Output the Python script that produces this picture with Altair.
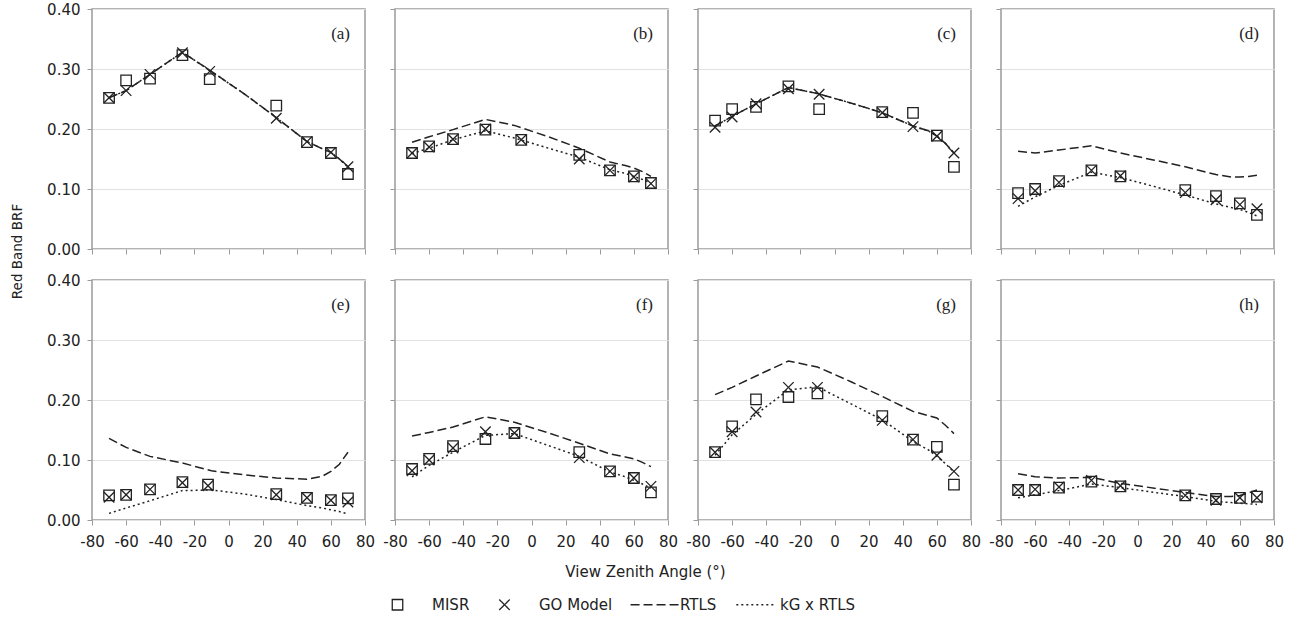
import altair as alt
import pandas as pd

PANELS = ["a", "b", "c", "d", "e", "f", "g", "h"]
SERIES = ["MISR", "GO Model", "RTLS", "kG x RTLS"]
POINT_ANGLES = [-70, -60, -46, -27, -10, 28, 46, 60, 70]
FIFTH_ANGLE = [-11, -6, -9, -10, -12, -10, -10, -10]
LINE_ANGLES = [-70, -60, -46, -27, -10, 10, 28, 46, 55, 60, 65, 70]
X_TICKS = [-80, -60, -40, -20, 0, 20, 40, 60, 80]
Y_TICKS = [0.0, 0.1, 0.2, 0.3, 0.4]

MISR = {
    "a": [0.252, 0.281, 0.284, 0.323, 0.283, 0.239, 0.178, 0.160, 0.125],
    "b": [0.160, 0.171, 0.183, 0.199, 0.182, 0.157, 0.131, 0.121, 0.110],
    "c": [0.214, 0.233, 0.237, 0.271, 0.233, 0.228, 0.227, 0.189, 0.137],
    "d": [0.093, 0.100, 0.113, 0.131, 0.121, 0.098, 0.088, 0.076, 0.057],
    "e": [0.041, 0.042, 0.051, 0.063, 0.059, 0.043, 0.037, 0.033, 0.036],
    "f": [0.085, 0.102, 0.123, 0.135, 0.145, 0.113, 0.081, 0.070, 0.046],
    "g": [0.113, 0.156, 0.201, 0.205, 0.211, 0.173, 0.134, 0.122, 0.059],
    "h": [0.050, 0.050, 0.054, 0.064, 0.056, 0.041, 0.035, 0.037, 0.039],
}
GO = {
    "a": [0.252, 0.264, 0.291, 0.327, 0.296, 0.218, 0.179, 0.161, 0.137],
    "b": [0.160, 0.170, 0.183, 0.200, 0.182, 0.150, 0.131, 0.120, 0.109],
    "c": [0.203, 0.220, 0.242, 0.267, 0.258, 0.227, 0.204, 0.188, 0.160],
    "d": [0.084, 0.097, 0.111, 0.131, 0.122, 0.094, 0.082, 0.074, 0.067],
    "e": [0.038, 0.042, 0.051, 0.062, 0.057, 0.042, 0.037, 0.033, 0.030],
    "f": [0.082, 0.100, 0.120, 0.147, 0.145, 0.104, 0.081, 0.070, 0.056],
    "g": [0.113, 0.147, 0.180, 0.221, 0.221, 0.166, 0.134, 0.108, 0.081],
    "h": [0.050, 0.051, 0.055, 0.066, 0.057, 0.041, 0.033, 0.037, 0.037],
}
RTLS = {
    "a": [0.252, 0.264, 0.291, 0.328, 0.296, 0.257, 0.219, 0.179, 0.167, 0.161, 0.150, 0.137],
    "b": [0.178, 0.187, 0.199, 0.216, 0.206, 0.187, 0.168, 0.145, 0.139, 0.135, 0.129, 0.121],
    "c": [0.205, 0.221, 0.242, 0.269, 0.259, 0.243, 0.227, 0.205, 0.197, 0.188, 0.176, 0.160],
    "d": [0.163, 0.160, 0.165, 0.172, 0.160, 0.148, 0.137, 0.124, 0.120, 0.120, 0.121, 0.123],
    "e": [0.136, 0.121, 0.106, 0.095, 0.082, 0.075, 0.070, 0.068, 0.073, 0.081, 0.093, 0.113],
    "f": [0.140, 0.146, 0.155, 0.172, 0.163, 0.145, 0.128, 0.110, 0.105, 0.102, 0.096, 0.089],
    "g": [0.209, 0.221, 0.240, 0.265, 0.255, 0.230, 0.206, 0.181, 0.174, 0.170, 0.158, 0.144],
    "h": [0.077, 0.072, 0.070, 0.071, 0.061, 0.053, 0.046, 0.039, 0.039, 0.041, 0.045, 0.050],
}
KG_RTLS = {
    "a": [0.252, 0.264, 0.291, 0.328, 0.296, 0.257, 0.219, 0.179, 0.167, 0.161, 0.150, 0.137],
    "b": [0.159, 0.168, 0.182, 0.197, 0.185, 0.168, 0.153, 0.132, 0.126, 0.121, 0.116, 0.110],
    "c": [0.205, 0.221, 0.242, 0.269, 0.259, 0.243, 0.227, 0.205, 0.197, 0.188, 0.176, 0.160],
    "d": [0.071, 0.087, 0.106, 0.128, 0.119, 0.104, 0.090, 0.075, 0.069, 0.066, 0.061, 0.055],
    "e": [0.011, 0.020, 0.032, 0.049, 0.050, 0.043, 0.034, 0.024, 0.020, 0.017, 0.014, 0.010],
    "f": [0.072, 0.091, 0.113, 0.141, 0.144, 0.124, 0.106, 0.080, 0.072, 0.066, 0.060, 0.053],
    "g": [0.108, 0.142, 0.176, 0.217, 0.222, 0.193, 0.167, 0.131, 0.117, 0.106, 0.094, 0.080],
    "h": [0.037, 0.042, 0.049, 0.060, 0.054, 0.046, 0.039, 0.031, 0.029, 0.028, 0.027, 0.026],
}

# ---- build long table ----
rows = []
for i, p in enumerate(PANELS):
    px = list(POINT_ANGLES)
    px[4] = FIFTH_ANGLE[i]
    for name, src in (("MISR", MISR), ("GO Model", GO)):
        for order, (x, y) in enumerate(zip(px, src[p])):
            rows.append(dict(panel=p, series=name, kind="point", x=x, y=y, order=order))
    for name, src in (("RTLS", RTLS), ("kG x RTLS", KG_RTLS)):
        for order, (x, y) in enumerate(zip(LINE_ANGLES, src[p])):
            rows.append(dict(panel=p, series=name, kind="line", x=x, y=y, order=order))
df = pd.DataFrame(rows)

INK = "#222222"
FRAME = "#9a9a9a"
W, H = 273, 240
FONT = "DejaVu Sans"

# marker / key glyphs: square, centred x-cross (leading move only widens the key
# spacing), long-dash sample, dotted sample
shape_scale = alt.Scale(
    domain=SERIES,
    range=[
        "square",
        "M-3.7,0M-1,-1L1,1M-1,1L1,-1",
        "M-3.4,0M-2.85,0H6.85",
        "M-2.5,0M-1.75,0H5.5",
    ],
)
dash_scale = alt.Scale(domain=SERIES, range=[[1, 0], [1, 0], [9, 4], [2, 3]])

legend = alt.Legend(
    title=None,
    orient="none",
    direction="horizontal",
    legendX=298,
    legendY=588,
    labelFont=FONT,
    labelFontSize=15,
    labelColor=INK,
    labelOffset=27,
    columnPadding=12,
    symbolSize=110,
    symbolStrokeWidth=1.3,
    symbolStrokeColor=INK,
    symbolFillColor="transparent",
)


def make_panel(i, p):
    left = i % 4 == 0
    bottom = i >= 4
    xaxis_kw = dict(
        values=X_TICKS, labels=bottom, labelExpr="'' + datum.value", grid=False,
        title=None, labelFlush=False, labelOverlap=False, labelPadding=9,
    )
    if i == 5:
        xaxis_kw.update(title="View Zenith Angle (°)", titleX=250, titleY=51,
                        titleBaseline="middle", titleFontSize=15, titleFont=FONT,
                        titleFontWeight="normal", titleColor=INK)
    yaxis_kw = dict(values=Y_TICKS, labels=left, format=".2f", grid=True, title=None,
                    labelFlush=False, labelOverlap=False, labelPadding=7)
    if i == 0:
        yaxis_kw.update(title="Red Band BRF", titleX=-75, titleY=242,
                        titleBaseline="middle", titleFontSize=13.5, titleFont=FONT,
                        titleFontWeight="normal", titleColor=INK, titleAngle=270)
    x = alt.X("x:Q", scale=alt.Scale(domain=[-80, 80], nice=False, zero=False),
              axis=alt.Axis(**xaxis_kw))
    y = alt.Y("y:Q", scale=alt.Scale(domain=[0, 0.4], nice=False),
              axis=alt.Axis(**yaxis_kw))
    base = alt.Chart(df).transform_filter(alt.datum.panel == p)
    lines = base.transform_filter(alt.datum.kind == "line").mark_line(
        color=INK, strokeWidth=1.5
    ).encode(
        x=x, y=y, detail="series:N", order="order:Q",
        strokeDash=alt.StrokeDash("series:N", scale=dash_scale, legend=legend),
    )
    points = base.transform_filter(alt.datum.kind == "point").mark_point(
        filled=False, color=INK, size=110, strokeWidth=1.3, opacity=1
    ).encode(
        x=x, y=y,
        shape=alt.Shape("series:N", scale=shape_scale, legend=legend),
    )
    label = alt.Chart(pd.DataFrame({"label": [f"({p})"]})).mark_text(
        font="Liberation Serif", fontSize=17, align="right", baseline="middle", color=INK
    ).encode(x=alt.value(W - 15), y=alt.value(25), text="label:N")
    return alt.layer(lines, points, label).properties(width=W, height=H)


panels = [make_panel(i, p) for i, p in enumerate(PANELS)]
chart = alt.concat(
    *panels, columns=4, spacing={"row": 31, "column": 30}, bounds="flush"
).resolve_scale(x="independent", y="independent").properties(
    padding={"left": 9, "top": 1, "right": 5, "bottom": 5},
    background="white",
).configure_view(
    stroke=FRAME, strokeWidth=1.5
).configure_axis(
    domain=False,
    tickColor=FRAME,
    tickSize=5,
    labelFont=FONT,
    labelFontSize=15,
    labelColor=INK,
    gridColor="#e2e2e2",
    gridWidth=1,
)

chart.save("out.html", embed_options={"renderer": "svg", "actions": False})
